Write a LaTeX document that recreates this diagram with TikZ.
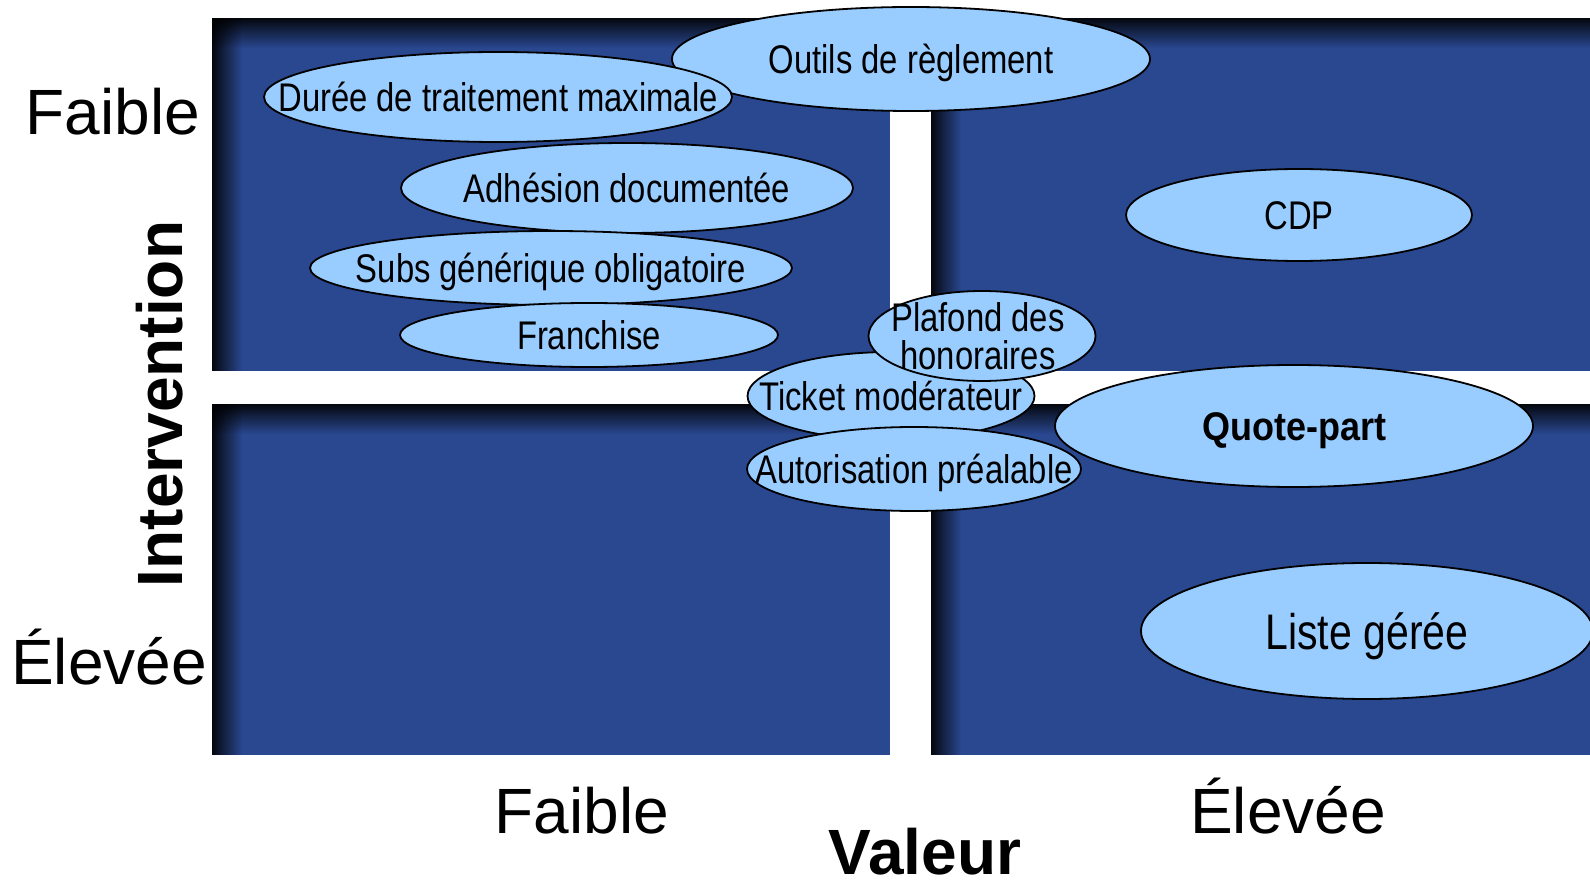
\documentclass[tikz,border=0pt]{standalone}
\usepackage{fontspec}
\setmainfont{Liberation Sans}
\newfontfamily\narrowsans[FakeStretch=0.82]{Liberation Sans}
\newfontfamily\quotesans[FakeStretch=0.9]{Liberation Sans}
\usetikzlibrary{shapes.geometric,fadings}

\definecolor{panelblue}{RGB}{42,72,144}
\definecolor{bubblefill}{RGB}{153,204,255}

\tikzfading[name=shadetop, top color=transparent!0, bottom color=transparent!100]
\tikzfading[name=shadeleft, left color=transparent!0, right color=transparent!100]

% one quadrant: flat blue with a dark inner shadow along its top and left edges
\newcommand\quadpanel[4]{%
  \fill[panelblue] (#1,#2) rectangle (#3,#4);
  \fill[black, opacity=0.9, path fading=shadetop] (#1,#2) rectangle (#3,#2+30);
  \fill[black, opacity=0.9, path fading=shadeleft] (#1,#2) rectangle (#1+30,#4);
}

\tikzset{
  bubble/.style={ellipse, draw=black, line width=1.8pt, fill=bubblefill, inner sep=0pt},
  btext/.style={font=\narrowsans\fontsize{40}{44}\selectfont, inner sep=0pt,
                text height=29pt, text depth=0pt},
  axislabel/.style={font=\fontsize{64}{72}\selectfont, inner sep=0pt},
  axistitle/.style={font=\bfseries\fontsize{64}{72}\selectfont, inner sep=0pt},
}

\begin{document}
\begin{tikzpicture}[x=1pt, y=-1pt]
\useasboundingbox (0,0) rectangle (1590,882);
\fill[white] (0,0) rectangle (1590,882);

% quadrants
\quadpanel{212}{18}{890}{371}
\quadpanel{931}{18}{1595}{371}
\quadpanel{212}{404}{890}{755}
\quadpanel{931}{404}{1595}{755}

% bubbles, back to front
\node[bubble, minimum width=478pt, minimum height=104pt,
      label={[btext]center:Outils de règlement}] (outils) at (911,59) {};
\node[bubble, minimum width=468pt, minimum height=90pt,
      label={[btext]center:Durée de traitement maximale}] (duree) at (498,97) {};
\node[bubble, minimum width=452pt, minimum height=90pt,
      label={[btext]center:Adhésion documentée}] (adhesion) at (627,188) {};
\node[bubble, minimum width=482pt, minimum height=74pt,
      label={[btext]center:Subs générique obligatoire}] (subs) at (551,268) {};
\node[bubble, minimum width=378pt, minimum height=64pt,
      label={[btext]center:Franchise}] (franchise) at (589,335) {};
\node[bubble, minimum width=346pt, minimum height=92pt,
      label={[btext]center:CDP}] (cdp) at (1299,215) {};
\node[bubble, minimum width=478pt, minimum height=122pt,
      label={[btext, font=\quotesans\bfseries\fontsize{40}{44}\selectfont]center:Quote-part}] (quote) at (1294,426) {};
\node[bubble, minimum width=287pt, minimum height=88pt,
      label={[btext]center:Ticket modérateur}] (ticket) at (891,396) {};
\node[bubble, minimum width=227pt, minimum height=90pt] (plafond) at (982,336) {};
\node[font=\narrowsans\fontsize{40}{38}\selectfont, align=center, inner sep=0pt,
      xshift=-4pt] (plafondT) at (plafond.center) {Plafond des\\honoraires};
\node[bubble, minimum width=334pt, minimum height=84pt,
      label={[btext]center:Autorisation préalable}] (autorisation) at (914,469) {};
\node[bubble, minimum width=452pt, minimum height=136pt,
      label={[btext, font=\narrowsans\fontsize{50}{56}\selectfont, text height=36pt]center:Liste gérée}] (liste) at (1367,631) {};

% axis labels
\node[axislabel, anchor=base] (yLow) at (113,135) {Faible};
\node[axislabel, anchor=base] (yHigh) at (109,684) {Élevée};
\node[axislabel, anchor=base] (xLow) at (582,833) {Faible};
\node[axislabel, anchor=base] (xHigh) at (1288,833) {Élevée};
\node[axistitle, anchor=base] (xTitle) at (925,874) {Valeur};
\node[axistitle, anchor=base, rotate=90] (yTitle) at (182,404) {Intervention};
\end{tikzpicture}
\end{document}
